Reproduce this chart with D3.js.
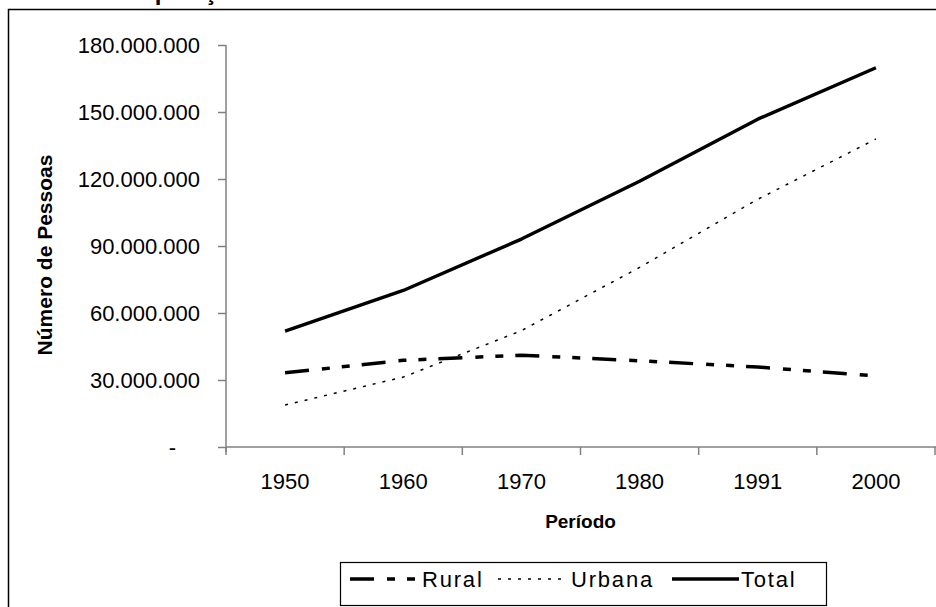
<!DOCTYPE html>
<html><head><meta charset="utf-8">
<script src="https://cdn.jsdelivr.net/npm/d3@7"></script>
<style>
html,body{margin:0;padding:0;background:#fff;}
svg{display:block;font-family:"Liberation Sans",Arial,sans-serif;}
</style></head>
<body>
<svg id="chart" width="936" height="607"></svg>
<script>
const categories = ["1950","1960","1970","1980","1991","2000"];
const rural  = [33200000, 38800000, 41100000, 38600000, 35800000, 31800000];
const urbana = [18800000, 31300000, 52100000, 80400000, 110900000, 137900000];
const total  = [51900000, 70100000, 93100000, 119000000, 146800000, 169800000];
const yTicks = [0, 30000000, 60000000, 90000000, 120000000, 150000000, 180000000];
const seriesNames = ["Rural","Urbana","Total"];
const titleText = "População rural e urbana";
const xTitle = "Período";
const yTitle = "Número de Pessoas";

(function(){
const svg = d3.select("#chart");
const pLeft = 226, pRight = 935, pTop = 45, pBottom = 447;

// outer frame
svg.append("rect").attr("x",8.5).attr("y",9.5).attr("width",940).attr("height",620)
  .attr("fill","none").attr("stroke","#000").attr("stroke-width",1.5);

// title (clipped by the top edge, as in the reference)
svg.append("text").attr("x",124).attr("y",-0.5).attr("font-weight","bold")
  .attr("font-size",24).text(titleText);

const x = d3.scaleBand().domain(categories).range([pLeft, pRight]);
const y = d3.scaleLinear().domain([0,180000000]).range([pBottom, pTop]);

const loc = d3.formatLocale({decimal:",", thousands:".", grouping:[3], currency:["",""]});
const fmt = loc.format(",d");

const axisColor = "#808080";

// Y axis
const yAxis = svg.append("g").attr("transform",`translate(${pLeft},0)`)
  .call(d3.axisLeft(y).tickValues(yTicks).tickSize(8).tickPadding(18)
    .tickFormat(d => d === 0 ? "-" : fmt(d)));
yAxis.select(".domain").attr("stroke",axisColor).attr("stroke-width",1.5)
  .attr("d",`M0,${pTop}V${pBottom+5}`);
yAxis.selectAll(".tick line").attr("stroke",axisColor).attr("stroke-width",1.5);
yAxis.selectAll(".tick text").attr("font-size",22).attr("fill","#000")
  .attr("font-family","Liberation Sans, Arial, sans-serif");
yAxis.selectAll(".tick").filter(d => d === 0).select("text").attr("dx",-24);

// X axis
const xAxis = svg.append("g").attr("transform",`translate(0,${pBottom})`)
  .call(d3.axisBottom(x).tickSize(0).tickPadding(26));
xAxis.select(".domain").attr("stroke",axisColor).attr("stroke-width",1.5)
  .attr("d",`M${pLeft},0H${pRight+2}`);
xAxis.selectAll(".tick text").attr("font-size",22).attr("fill","#000")
  .attr("font-family","Liberation Sans, Arial, sans-serif");
const bounds = categories.map(c => x(c)).concat([x.range()[1]]);
xAxis.selectAll("line.bt").data(bounds).join("line").attr("class","bt")
  .attr("x1",d=>d).attr("x2",d=>d).attr("y1",0).attr("y2",8)
  .attr("stroke",axisColor).attr("stroke-width",1.5);

// axis titles
svg.append("text").attr("x",(pLeft+pRight)/2).attr("y",528).attr("text-anchor","middle")
  .attr("font-weight","bold").attr("font-size",19).text(xTitle);
svg.append("text").attr("transform",`translate(52,${(pTop+pBottom)/2+9}) rotate(-90)`)
  .attr("text-anchor","middle").attr("font-weight","bold").attr("font-size",21).text(yTitle);

// lines
const styles = {
  Rural:  {w:3.5, dash:"24,13,8,12,8,12"},
  Urbana: {w:1.5, dash:"3,7"},
  Total:  {w:3.4, dash:null}
};
const dataMap = {Rural: rural, Urbana: urbana, Total: total};
const line = d3.line().x((d,i) => x(categories[i]) + x.bandwidth()/2).y(d => y(d));
seriesNames.forEach(n => {
  const p = svg.append("path").datum(dataMap[n]).attr("d",line)
    .attr("fill","none").attr("stroke","#000").attr("stroke-width",styles[n].w)
    .attr("stroke-linejoin","round");
  if (styles[n].dash) p.attr("stroke-dasharray",styles[n].dash);
});

// legend
const lg = svg.append("g");
lg.append("rect").attr("x",340.5).attr("y",562.5).attr("width",486).attr("height",43)
  .attr("fill","#fff").attr("stroke","#000").attr("stroke-width",1.2);
const legendItems = [
  {n:"Rural", x1:350, x2:420, tx:422},
  {n:"Urbana", x1:498, x2:568, tx:571},
  {n:"Total", x1:672, x2:739, tx:741}
];
legendItems.forEach(it => {
  const l = lg.append("line").attr("x1",it.x1).attr("x2",it.x2).attr("y1",579).attr("y2",579)
    .attr("stroke","#000").attr("stroke-width",styles[it.n].w);
  if (styles[it.n].dash) l.attr("stroke-dasharray",styles[it.n].dash);
  lg.append("text").attr("x",it.tx).attr("y",587).attr("font-size",22)
    .attr("letter-spacing",1.8).text(it.n);
});
})();
</script>
</body></html>
